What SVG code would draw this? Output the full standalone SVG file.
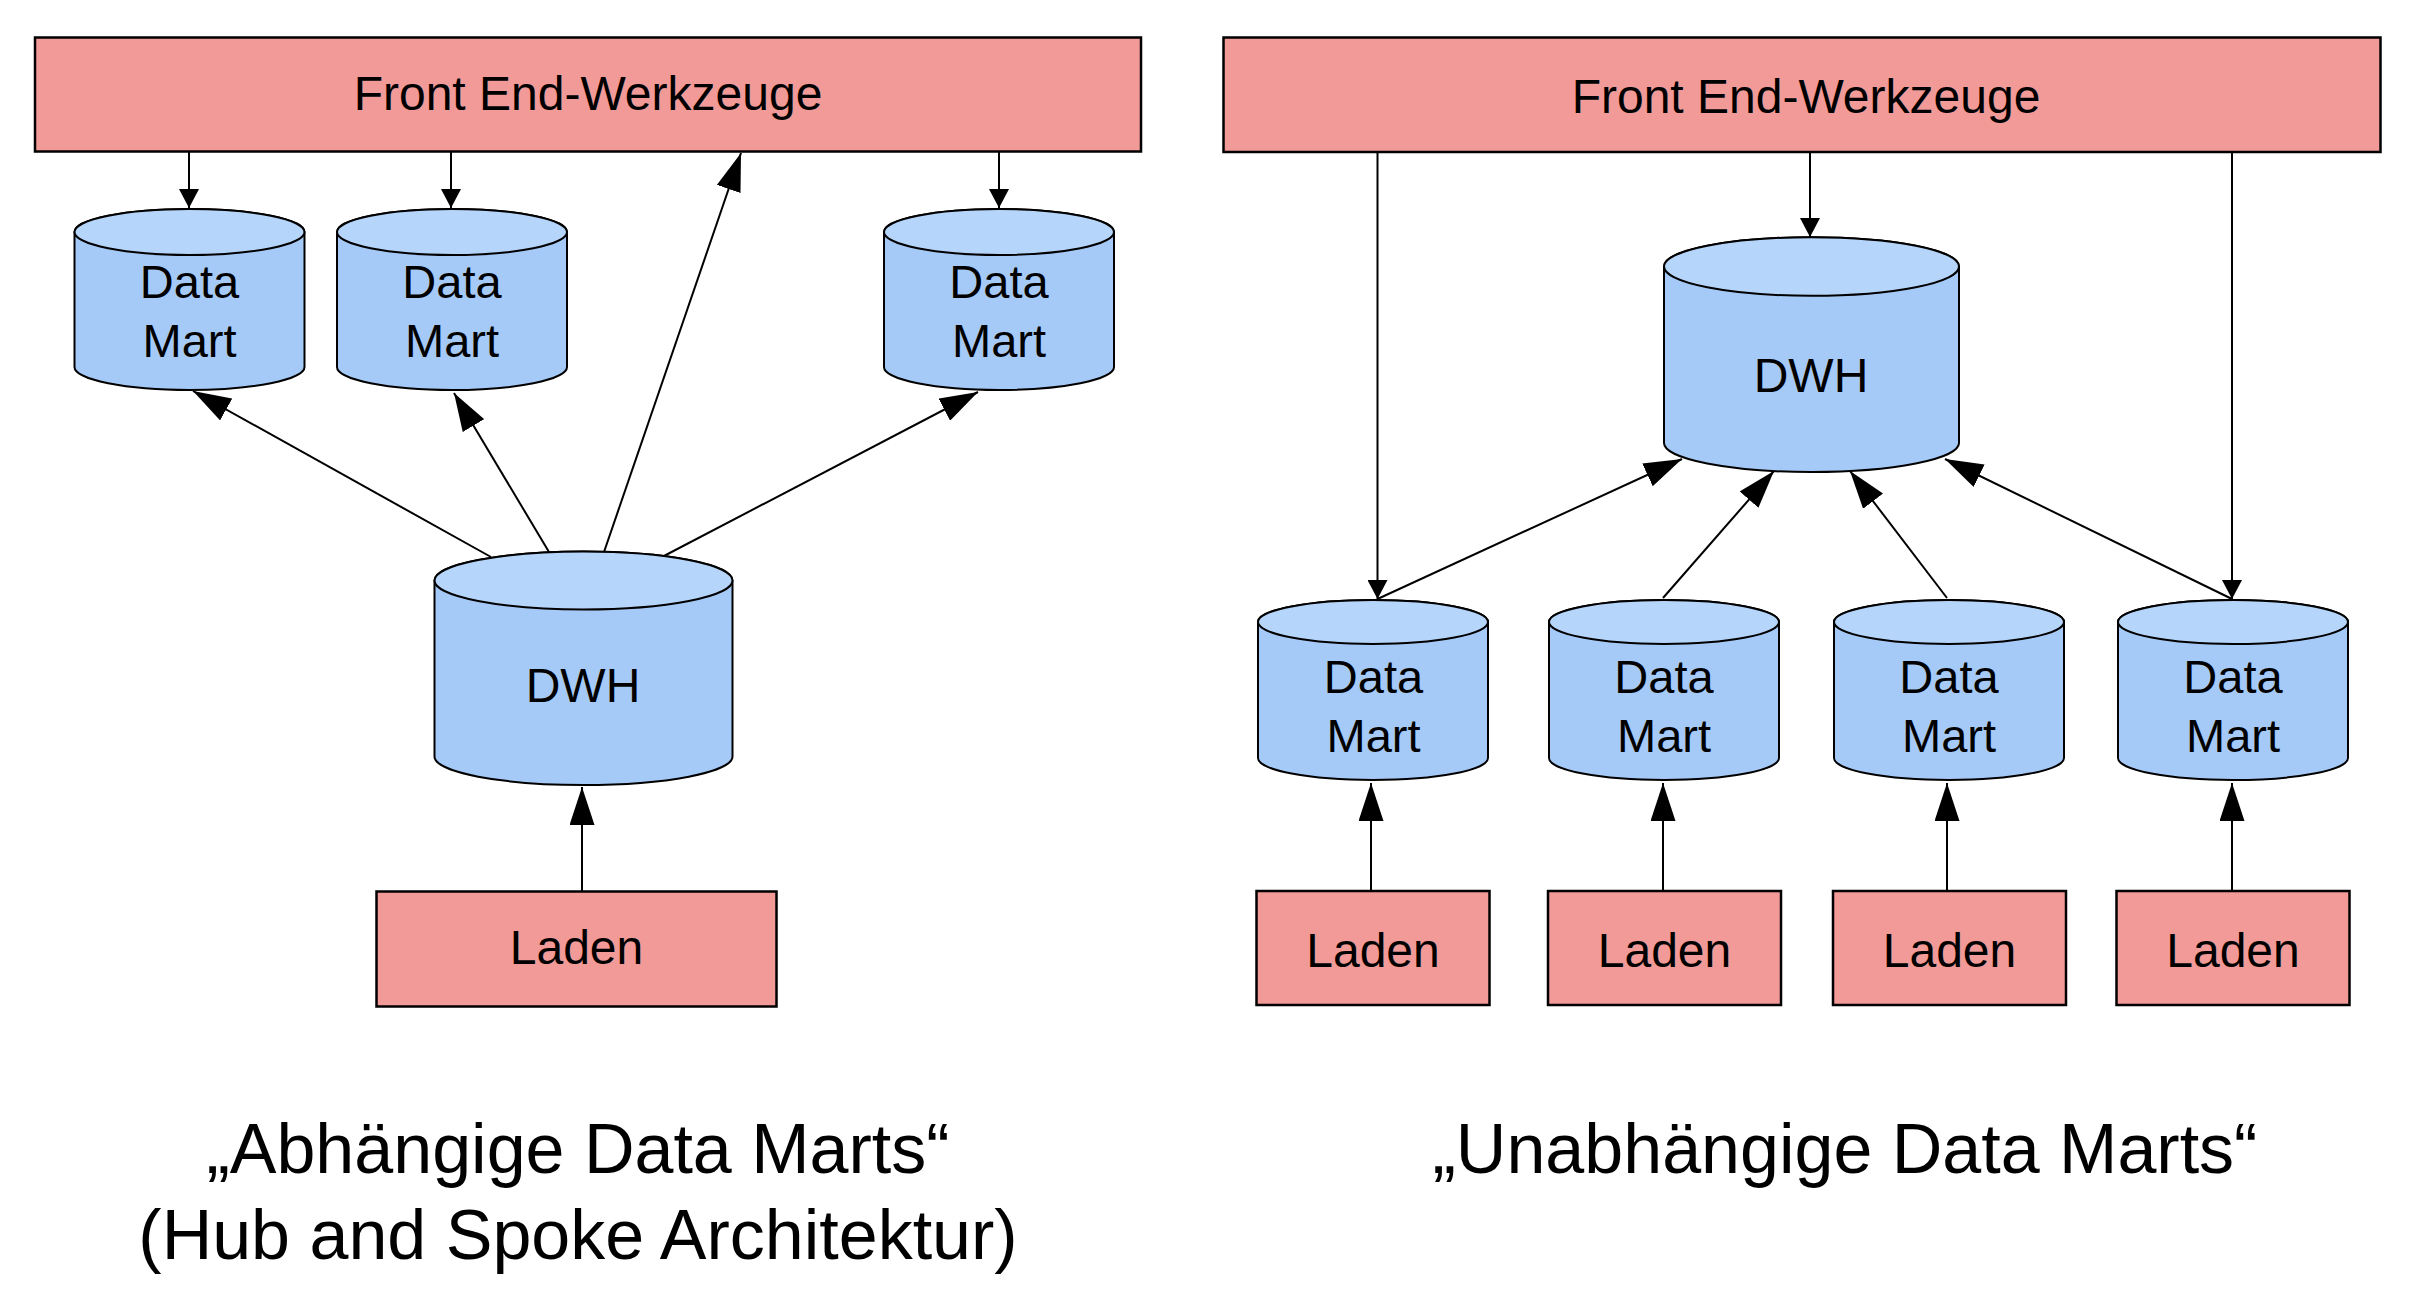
<svg xmlns="http://www.w3.org/2000/svg" width="2416" height="1310" viewBox="0 0 2416 1310">
<style>
.box{fill:#F19A97;stroke:#000;stroke-width:2.5}
.cyl{fill:#A6CAF7;stroke:#000;stroke-width:2}
.cyltop{fill:#B6D5FA;stroke:#000;stroke-width:2}
.t{font-family:"Liberation Sans",Arial,sans-serif;font-size:48px;fill:#000;text-anchor:middle}
.dm{font-size:47px}
.title{font-size:70px}
.c{stroke:#000;stroke-width:2;fill:none}
.s{marker-end:url(#small)}
.l{marker-end:url(#large)}
</style>
<defs>
<marker id="small" markerUnits="userSpaceOnUse" viewBox="0 0 19 20" refX="19" refY="10" markerWidth="19" markerHeight="20" orient="auto"><path d="M0,0 L19,10 L0,20 Z" fill="#000"/></marker>
<marker id="large" markerUnits="userSpaceOnUse" viewBox="0 0 38 25" refX="38" refY="12.5" markerWidth="38" markerHeight="25" orient="auto"><path d="M0,0 L38,12.5 L0,25 Z" fill="#000"/></marker>
</defs>
<rect width="2416" height="1310" fill="#fff"/>

<g id="connectors">
<line class="c s" x1="189" y1="152" x2="189" y2="208"/>
<line class="c s" x1="451" y1="152" x2="451" y2="208"/>
<line class="c s" x1="999" y1="152" x2="999" y2="208"/>
<line class="c l" x1="604" y1="552" x2="741" y2="153"/>
<line class="c l" x1="491" y1="557" x2="193" y2="391"/>
<line class="c l" x1="549" y1="552" x2="454" y2="393"/>
<line class="c l" x1="662" y1="557" x2="978" y2="392"/>
<line class="c l" x1="582" y1="891" x2="582" y2="787"/>

<line class="c s" x1="1810" y1="152" x2="1810" y2="237"/>
<line class="c s" x1="1377.5" y1="152" x2="1377.5" y2="599"/>
<line class="c s" x1="2232" y1="152" x2="2232" y2="599"/>
<line class="c l" x1="1377.5" y1="599" x2="1682" y2="459"/>
<line class="c l" x1="1663" y1="598" x2="1774" y2="471"/>
<line class="c l" x1="1947" y1="598" x2="1850" y2="471"/>
<line class="c l" x1="2232" y1="599" x2="1945" y2="459"/>
<line class="c l" x1="1371" y1="891" x2="1371" y2="783"/>
<line class="c l" x1="1663" y1="891" x2="1663" y2="783"/>
<line class="c l" x1="1947" y1="891" x2="1947" y2="783"/>
<line class="c l" x1="2232" y1="891" x2="2232" y2="783"/>
</g>

<!-- Left: abhängige Data Marts -->
<g id="fe-left">
<rect class="box" x="35" y="37.5" width="1106" height="114"/>
<text class="t" x="588" y="110">Front End-Werkzeuge</text>
</g>
<g id="dm-l1">
<path class="cyl" d="M74.5,232 L74.5,367 A115,23 0 0 0 304.5,367 L304.5,232 A115,23 0 0 0 74.5,232 Z"/>
<ellipse class="cyltop" cx="189.5" cy="232" rx="115" ry="23"/>
<text class="t dm" x="189.5" y="298">Data</text>
<text class="t dm" x="189.5" y="357">Mart</text>
</g>
<g id="dm-l2">
<path class="cyl" d="M337,232 L337,367 A115,23 0 0 0 567,367 L567,232 A115,23 0 0 0 337,232 Z"/>
<ellipse class="cyltop" cx="452" cy="232" rx="115" ry="23"/>
<text class="t dm" x="452" y="298">Data</text>
<text class="t dm" x="452" y="357">Mart</text>
</g>
<g id="dm-l3">
<path class="cyl" d="M884,232 L884,367 A115,23 0 0 0 1114,367 L1114,232 A115,23 0 0 0 884,232 Z"/>
<ellipse class="cyltop" cx="999" cy="232" rx="115" ry="23"/>
<text class="t dm" x="999" y="298">Data</text>
<text class="t dm" x="999" y="357">Mart</text>
</g>
<g id="dwh-left">
<path class="cyl" d="M434.5,580.5 L434.5,756.5 A149,28.5 0 0 0 732.5,756.5 L732.5,580.5 A149,29 0 0 0 434.5,580.5 Z"/>
<ellipse class="cyltop" cx="583.5" cy="580.5" rx="149" ry="29"/>
<text class="t" x="583" y="701.5">DWH</text>
</g>
<g id="laden-left">
<rect class="box" x="376.5" y="891.5" width="400" height="115"/>
<text class="t" x="576.5" y="963.5">Laden</text>
</g>

<!-- Right: unabhängige Data Marts -->
<g id="fe-right">
<rect class="box" x="1223.5" y="37.5" width="1157" height="114.5"/>
<text class="t" x="1806" y="113">Front End-Werkzeuge</text>
</g>
<g id="dwh-right">
<path class="cyl" d="M1664,266.5 L1664,443 A147.5,29 0 0 0 1959,443 L1959,266.5 A147.5,29.3 0 0 0 1664,266.5 Z"/>
<ellipse class="cyltop" cx="1811.5" cy="266.5" rx="147.5" ry="29.3"/>
<text class="t" x="1811" y="391.5">DWH</text>
</g>
<g id="dm-r1">
<path class="cyl" d="M1258,622 L1258,758 A115,22 0 0 0 1488,758 L1488,622 A115,22 0 0 0 1258,622 Z"/>
<ellipse class="cyltop" cx="1373" cy="622" rx="115" ry="22"/>
<text class="t dm" x="1373.5" y="693">Data</text>
<text class="t dm" x="1373.5" y="752">Mart</text>
</g>
<g id="dm-r2">
<path class="cyl" d="M1549,622 L1549,758 A115,22 0 0 0 1779,758 L1779,622 A115,22 0 0 0 1549,622 Z"/>
<ellipse class="cyltop" cx="1664" cy="622" rx="115" ry="22"/>
<text class="t dm" x="1664" y="693">Data</text>
<text class="t dm" x="1664" y="752">Mart</text>
</g>
<g id="dm-r3">
<path class="cyl" d="M1834,622 L1834,758 A115,22 0 0 0 2064,758 L2064,622 A115,22 0 0 0 1834,622 Z"/>
<ellipse class="cyltop" cx="1949" cy="622" rx="115" ry="22"/>
<text class="t dm" x="1949" y="693">Data</text>
<text class="t dm" x="1949" y="752">Mart</text>
</g>
<g id="dm-r4">
<path class="cyl" d="M2118,622 L2118,758 A115,22 0 0 0 2348,758 L2348,622 A115,22 0 0 0 2118,622 Z"/>
<ellipse class="cyltop" cx="2233" cy="622" rx="115" ry="22"/>
<text class="t dm" x="2233" y="693">Data</text>
<text class="t dm" x="2233" y="752">Mart</text>
</g>
<g id="laden-r1">
<rect class="box" x="1256.5" y="891" width="233" height="114"/>
<text class="t" x="1373" y="967">Laden</text>
</g>
<g id="laden-r2">
<rect class="box" x="1548" y="891" width="233" height="114"/>
<text class="t" x="1664.5" y="967">Laden</text>
</g>
<g id="laden-r3">
<rect class="box" x="1833" y="891" width="233" height="114"/>
<text class="t" x="1949.5" y="967">Laden</text>
</g>
<g id="laden-r4">
<rect class="box" x="2116.5" y="891" width="233" height="114"/>
<text class="t" x="2233" y="967">Laden</text>
</g>

<g id="titles">
<text class="t title" x="578" y="1173">„Abhängige Data Marts“</text>
<text class="t title" x="578" y="1259">(Hub and Spoke Architektur)</text>
<text class="t title" x="1845" y="1173">„Unabhängige Data Marts“</text>
</g>
</svg>
